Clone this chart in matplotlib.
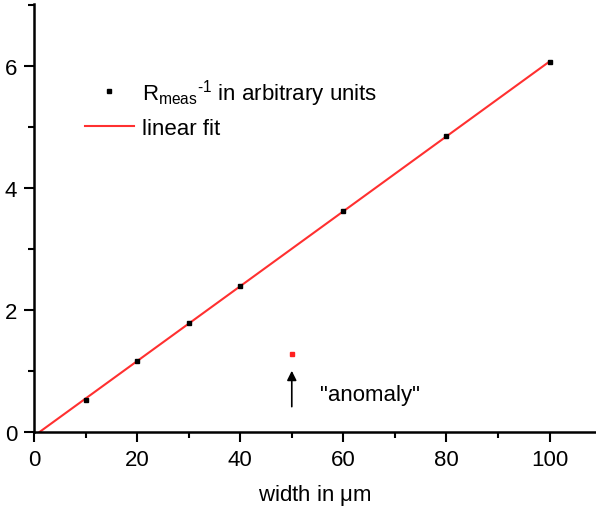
import numpy as np
import matplotlib.pyplot as plt
from matplotlib.ticker import MultipleLocator

plt.rcParams['font.family'] = ['Liberation Sans', 'DejaVu Sans']
plt.rcParams['mathtext.fontset'] = 'custom'
plt.rcParams['mathtext.rm'] = 'Liberation Sans'

# measured data
width = [10, 20, 30, 40, 60, 80, 100]
r_inv = [0.53, 1.17, 1.78, 2.40, 3.63, 4.85, 6.07]
anomaly_x = [50]
anomaly_y = [1.28]

# linear fit
k, b = np.polyfit(width, r_inv, 1)
x_fit = np.array([-b / k, 100])
y_fit = k * x_fit + b

fig = plt.figure(figsize=(5.96, 5.10), dpi=100)
ax = fig.add_axes([0.057, 0.151, 0.943, 0.839])

ax.plot(width, r_inv, 's', color='black', markersize=3,
        label=r'R$_{\mathregular{meas}}$$^{\mathregular{\text{-1}}}$ in arbitrary units', zorder=3)
ax.plot(x_fit, y_fit, color='#ff3030', lw=1.5, label='linear fit')
ax.plot(anomaly_x, anomaly_y, 's', color='#ff2020', markersize=3)

ax.annotate('', xy=(50, 1.05), xytext=(50, 0.37),
            arrowprops=dict(arrowstyle='-|>', color='black', lw=1.2, mutation_scale=14))
ax.text(55.5, 0.62, '"anomaly"', fontsize=16, va='center')

ax.set_xlim(0, 109)
ax.set_ylim(0, 7.02)
ax.xaxis.set_major_locator(MultipleLocator(20))
ax.xaxis.set_minor_locator(MultipleLocator(10))
ax.yaxis.set_major_locator(MultipleLocator(2))
ax.yaxis.set_minor_locator(MultipleLocator(1))
ax.tick_params(which='major', direction='out', length=7, width=1.5, labelsize=16, pad=5)
ax.tick_params(which='minor', direction='out', length=4, width=1.5)
ax.spines['top'].set_visible(False)
ax.spines['right'].set_visible(False)
ax.spines['left'].set_linewidth(1.8)
ax.spines['bottom'].set_linewidth(1.8)

ax.set_xlabel(r'width in $\mathregular{\mu}$m', fontsize=16, labelpad=9)

ax.legend(loc='upper left', bbox_to_anchor=(0.055, 0.877), frameon=False,
          fontsize=16, handlelength=2.2, handletextpad=0.35, labelspacing=0.45)

fig.savefig('out.png', dpi=100)
